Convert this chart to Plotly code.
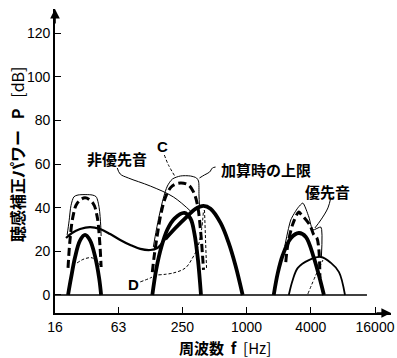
import math
import plotly.graph_objects as go

# ---------------- data (frequency in Hz, level in dB) ----------------
# Left band (~30 Hz)
LEFT_THICK_F = [21.2, 22.6, 24.7, 27.5, 30.6, 34.1, 38.1, 41.5, 43.3]
LEFT_THICK_DB = [0, 7.7, 17.4, 25, 27.5, 25, 17.4, 7.7, 0]
LEFT_DASH_F = [21.2, 22.1, 23.6, 25.8, 30.6, 36.4, 39.7, 41.9, 43.3]
LEFT_DASH_DB = [12.4, 25, 36, 42, 44.5, 42, 36, 25, 12.8]
LEFT_OUTLINE_F = [20.8, 21.7, 22.6, 24.1, 26.3, 35.7, 38.9, 41.5, 42.9, 43.3]
LEFT_OUTLINE_DB = [27.5, 34, 41, 45, 45.8, 45.8, 45, 40, 32, 27]

# Non-priority sound curve (long medium line)
NONPRI_F = [20.3, 23.1, 27.5, 34.1, 42.4, 52.7, 65.4, 81.2, 100.9, 125.3,
            145.7, 173.3, 215.3, 267.4, 346.7]
NONPRI_DB = [26.1, 28.4, 30.2, 31.1, 30.2, 27.9, 25.2, 22.9, 21.1, 20.6,
             21.5, 25.7, 30.7, 35.3, 40.3]

# Middle band (~250 Hz)
MID_THICK1_F = [130.8, 142.6, 158.9, 181.0, 210.7, 261.6, 297.9, 324.9, 350.4, 373.9]
MID_THICK1_DB = [0, 12, 22, 30, 35, 37.6, 35, 28, 16, 0]
MID_THICK2_F = [173.3, 215.3, 273.2, 332.0, 394.8, 459.5, 570.5, 678.5, 789.6, 918.9]
MID_THICK2_DB = [25.7, 30.7, 35.7, 39.4, 40.8, 39.5, 33, 24, 13.3, 0]
MID_OUTLINE_F = [133.7, 142.6, 152.2, 166.0, 181.0, 201.7, 239.9, 297.9, 339.2,
                 354.3, 358.1, 362.0]
MID_OUTLINE_DB = [22, 29.8, 36.6, 44.4, 49.9, 53.1, 54.5, 54.5, 53.6, 52.2, 45.8, 40.3]
MID_DASH_F = [130.8, 136.6, 145.7, 158.9, 177.1, 201.7, 239.9, 285.2, 317.9,
              346.7, 369.9, 386.4, 394.8]
MID_DASH_DB = [10.5, 18.3, 27.5, 38, 45.8, 50, 51.3, 50.4, 47.2, 41.2, 29.8, 18.3, 11.5]

# Curve D (thin dashed)
D_LEFT_F = [25.8, 30.0, 35.7, 42.4]
D_LEFT_DB = [14.7, 16.5, 17, 13.7]
D_MID_F = [149.0, 206.1, 267.4, 311.0, 346.7, 378.0, 394.8]
D_MID_DB = [9.2, 10.1, 12.4, 16.9, 21.5, 29.8, 38.9]
D_VERT_F = [403.4, 421.3]
D_VERT_DB = [38.9, 12.4]
D_RIGHT_F = [3756, 4468, 5198]
D_RIGHT_DB = [0.5, 9.2, 16]

# Right band (~4000 Hz)
RIGHT_THICK_F = [1798, 1961, 2186, 2599, 3091, 3597, 4278, 4766, 5312]
RIGHT_THICK_DB = [0, 10, 18.3, 26, 28.4, 26.6, 17, 9, 0]
RIGHT_OUTLINE_F = [2282, 2599, 3025, 3371, 3838, 4186, 4976, 5030]
RIGHT_OUTLINE_DB = [22.4, 34.4, 39.9, 42.1, 35.7, 29.8, 31.1, 17.4]
RIGHT_DASH_F = [2333, 2435, 2714, 3091, 3228, 3922, 4278, 4563, 4766, 4871]
RIGHT_DASH_DB = [15.1, 22.9, 32.5, 38, 37.1, 32, 27.5, 26.1, 20.6, 7.8]
PRI_F = [2488, 2714, 3025, 3838, 4976, 6182, 7352, 8371]
PRI_DB = [0, 7, 12.4, 16, 17.4, 14.7, 10.5, 0]

ZERO_F = [16, 13450]
ZERO_DB = [0, 0]

# leader lines
NONPRI_LEADER_F = [61.3, 65.4, 77.8, 125.3, 206.1, 311.0]
NONPRI_LEADER_DB = [58.2, 55.4, 53.6, 49.9, 44.9, 37.6]
C_LEADER_F = [169.6, 185, 215.3]
C_LEADER_DB = [64.1, 59.6, 54]
UPPER_LEADER_F = [512, 479.7, 449.6, 403.4, 362.0]
UPPER_LEADER_DB = [58.6, 58.2, 56.3, 55, 53.6]
PRI_LEADER_F = [6182, 5793, 4976, 4371]
PRI_LEADER_DB = [44.9, 39.9, 34.4, 30.7]
D_LEADER_F = [100.9, 125.3, 142.6]
D_LEADER_DB = [6, 7.8, 9.2]

# labels: (text, freq, dB, xanchor)
LABELS = [
    ("非優先音", 61.3, 62.3, "center"),
    ("C", 162.4, 67.8, "center"),
    ("加算時の上限", 546, 57.3, "left"),
    ("優先音", 5793, 47.2, "center"),
    ("D", 86.7, 4.6, "center"),
]

X_TICKS = [16, 63, 250, 1000, 4000, 16000]
X_TICK_TEXT = ["16", "63", "250", "1000", "4000", "16000"]
Y_TICKS = [0, 20, 40, 60, 80, 100, 120]

# ---------------- figure ----------------
fig = go.Figure()

def add(f, db, width, dash="solid", shape="spline", smoothing=1.0):
    fig.add_trace(go.Scatter(
        x=f, y=db, mode="lines", hoverinfo="skip", showlegend=False,
        line=dict(color="black", width=width, dash=dash, shape=shape,
                  smoothing=smoothing if shape == "spline" else None),
    ))

THIN_DASH = "3px,2px"
THICK_DASH = "8px,4px"

add(ZERO_F, ZERO_DB, 1.6, shape="linear")
# thin outlines (upper limit at addition)
add(LEFT_OUTLINE_F, LEFT_OUTLINE_DB, 1.0, smoothing=0.8)
add(MID_OUTLINE_F, MID_OUTLINE_DB, 1.0, smoothing=0.8)
add(RIGHT_OUTLINE_F, RIGHT_OUTLINE_DB, 1.0, smoothing=0.6)
# thin dashed D
add(D_LEFT_F, D_LEFT_DB, 1.0, THIN_DASH)
add(D_MID_F, D_MID_DB, 1.0, THIN_DASH)
add(D_VERT_F, D_VERT_DB, 1.0, THIN_DASH, shape="linear")
add(D_RIGHT_F, D_RIGHT_DB, 1.0, THIN_DASH)
# leaders
add(NONPRI_LEADER_F, NONPRI_LEADER_DB, 1.0)
add(C_LEADER_F, C_LEADER_DB, 1.0, THIN_DASH)
add(UPPER_LEADER_F, UPPER_LEADER_DB, 1.0)
add(PRI_LEADER_F, PRI_LEADER_DB, 1.0)
add(D_LEADER_F, D_LEADER_DB, 1.0, THIN_DASH)
# thick dashed
add(LEFT_DASH_F, LEFT_DASH_DB, 3.0, THICK_DASH)
add(MID_DASH_F, MID_DASH_DB, 3.0, THICK_DASH)
add(RIGHT_DASH_F, RIGHT_DASH_DB, 3.0, THICK_DASH)
# medium curves
add(NONPRI_F, NONPRI_DB, 2.2)
add(PRI_F, PRI_DB, 1.8)
# thick solid
add(LEFT_THICK_F, LEFT_THICK_DB, 3.8)
add(MID_THICK1_F, MID_THICK1_DB, 3.8)
add(MID_THICK2_F, MID_THICK2_DB, 3.8)
add(RIGHT_THICK_F, RIGHT_THICK_DB, 3.8)

CJK = "Noto Sans CJK JP"
NB = "\u00a0"
annotations = []
for text, f, db, anchor in LABELS:
    annotations.append(dict(
        x=math.log10(f), y=db, xref="x", yref="y", text=text, showarrow=False,
        xanchor=anchor, yanchor="middle",
        font=dict(family=CJK if text not in ("C", "D") else "Liberation Sans",
                  size=15, color="black", weight="bold"),
    ))

# axis arrows
annotations.append(dict(x=0, y=1, xref="paper", yref="paper", ax=0, ay=16,
                        axref="pixel", ayref="pixel", text="", showarrow=True,
                        arrowhead=2, arrowsize=1.2, arrowwidth=1.6, arrowcolor="black"))
annotations.append(dict(x=1, y=0, xref="paper", yref="paper", ax=-16, ay=0,
                        text="", showarrow=True,
                        arrowhead=2, arrowsize=1.2, arrowwidth=1.6, arrowcolor="black"))
# axis titles
annotations.append(dict(x=-0.113, y=0.52, xref="paper", yref="paper",
                        text="<b>聴感補正パワー</b>" + NB * 3 + "<b>P</b>" + NB * 3 + "[dB]",
                        showarrow=False, textangle=-90,
                        xanchor="center", yanchor="middle",
                        font=dict(family=CJK, size=16, color="black")))
annotations.append(dict(x=0.505, y=-0.112, xref="paper", yref="paper",
                        text="<b>周波数</b>" + NB * 2 + "<b>f</b>" + NB * 2 + "[Hz]",
                        showarrow=False,
                        xanchor="center", yanchor="middle",
                        font=dict(family=CJK, size=15, color="black")))

fig.update_layout(
    width=397, height=358,
    margin=dict(l=55, r=6, t=9, b=45),
    paper_bgcolor="white", plot_bgcolor="white",
    annotations=annotations,
    font=dict(family="Liberation Sans", size=14, color="black"),
)
fig.update_xaxes(
    type="log", range=[math.log10(16), math.log10(16) + 336 / 320 * 3],
    tickvals=X_TICKS, ticktext=X_TICK_TEXT, ticks="inside", ticklen=6, tickwidth=1.4,
    tickcolor="black", showline=True, linecolor="black", linewidth=1.6,
    showgrid=False, zeroline=False, tickfont=dict(size=14), automargin=False,
)
fig.update_yaxes(
    range=[-8.25, 131.0], tickvals=Y_TICKS, ticks="inside", ticklen=6, tickwidth=1.4,
    tickcolor="black", showline=True, linecolor="black", linewidth=1.6,
    showgrid=False, zeroline=False, tickfont=dict(size=14), automargin=False,
)

fig.write_html("out.html", post_script="document.body.style.margin='0';",
               config={"displayModeBar": False})
